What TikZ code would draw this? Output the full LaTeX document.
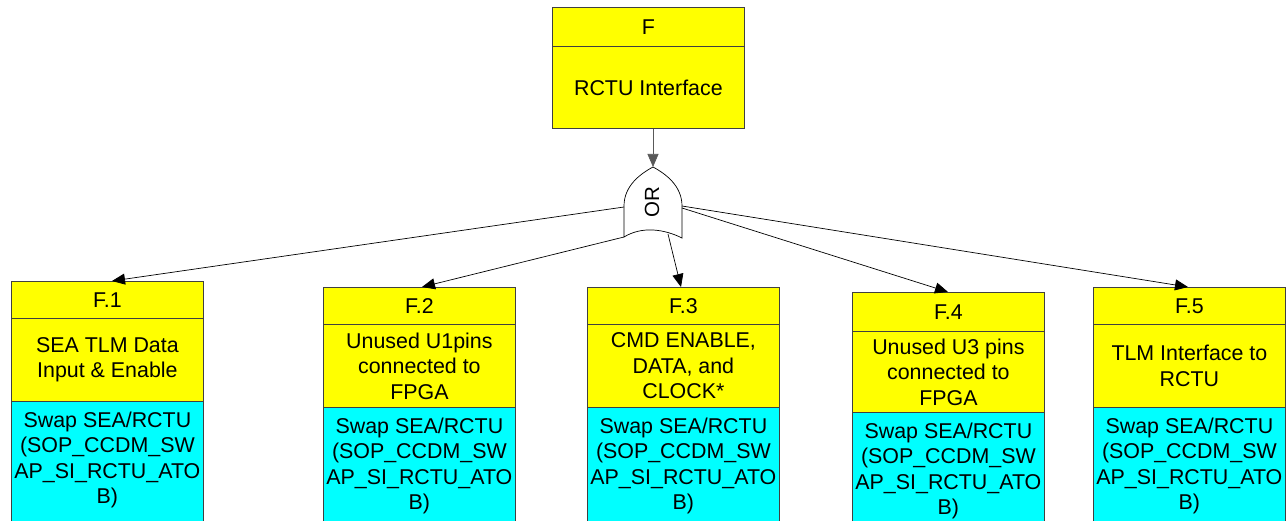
\documentclass[tikz,border=0pt]{standalone}
\usepackage{fontspec}
\setmainfont{Liberation Sans}
\usetikzlibrary{arrows.meta}
\definecolor{evYellow}{RGB}{255,255,0}
\definecolor{evCyan}{RGB}{0,255,255}
\newcommand\swapinfo{\parbox[c][140pt][t]{192pt}{\centering\rule{0pt}{26pt}Swap SEA/RCTU\\(SOP\_CCDM\_SW\\AP\_SI\_RCTU\_ATO\\B)}}
\begin{document}
\begin{tikzpicture}[x=1pt,y=-1pt,
  every node/.style={font=\fontsize{21.4}{25.5}\selectfont, inner sep=0pt},
  part/.style={draw=black!75, line width=0.8pt, minimum width=192pt, anchor=north west, align=center},
  hdr/.style={part, fill=evYellow, minimum height=#1},
  desc/.style={part, fill=evYellow, minimum height=#1},
  info/.style={part, fill=evCyan, minimum height=140pt},
  gate/.style={draw=black, line width=0.7pt, fill=white},
  link/.style={draw=black, line width=0.7pt, -{Triangle[length=13pt,width=11pt]}},
  feed/.style={link, draw=black!65},
]
\useasboundingbox (0,0) rectangle (1286,521);
\clip (0,0) rectangle (1286,521);
\fill[white] (0,0) rectangle (1286,521);

% top event
\node[hdr=39pt] (fHead) at (552,7) {F};
\node[desc=82pt] (fBody) at (552,46) {RCTU Interface};

% OR gate
\node[minimum width=58pt, minimum height=71pt] (orGate) at (653,202.5) {};
\coordinate (orTop) at (653,167);
\coordinate (orL1) at (624,207);
\coordinate (orL2) at (624,237);
\coordinate (orB) at (668,234);
\coordinate (orR1) at (682,206);
\coordinate (orR2) at (682,208);
\draw[gate] (624,237) -- (624,206) .. controls (624,186) and (640,174) .. (orTop)
  .. controls (666,174) and (682,186) .. (682,206) -- (682,238)
  .. controls (664,229) and (642,226) .. cycle;
\node[rotate=90, font=\fontsize{20.5}{24}\selectfont] (orLabel) at (652,202) {OR};

% F.1
\node[hdr=37pt] (h1) at (11,281) {F.1};
\node[desc=83pt] (d1) at (11,318) {SEA TLM Data\\Input \& Enable};
\node[info] (c1) at (11,401) {\swapinfo};
% F.2
\node[hdr=37pt] (h2) at (323,287) {F.2};
\node[desc=83pt] (d2) at (323,324) {Unused U1pins\\connected to\\FPGA};
\node[info] (c2) at (323,407) {\swapinfo};
% F.3
\node[hdr=37pt] (h3) at (587,287) {F.3};
\node[desc=83pt] (d3) at (587,324) {CMD ENABLE,\\DATA, and\\CLOCK*};
\node[info] (c3) at (587,407) {\swapinfo};
% F.4
\node[hdr=39pt] (h4) at (852,292) {F.4};
\node[desc=81pt] (d4) at (852,331) {Unused U3 pins\\connected to\\FPGA};
\node[info] (c4) at (852,412) {\swapinfo};
% F.5
\node[hdr=37pt] (h5) at (1093,287) {F.5};
\node[desc=83pt] (d5) at (1093,324) {TLM Interface to\\RCTU};
\node[info] (c5) at (1093,407) {\swapinfo};

% arrow landing points on the child headers
\coordinate (t1) at (112,281);
\coordinate (t2) at (422,287);
\coordinate (t3) at (681,287);
\coordinate (t4) at (948,292);
\coordinate (t5) at (1188,287);

% connectors
\draw[feed] (fBody.south -| orTop) -- (orTop);
\draw[link] (orL1) -- (t1);
\draw[link] (orL2) -- (t2);
\draw[link] (orB) -- (t3);
\draw[link] (orR2) -- (t4);
\draw[link] (orR1) -- (t5);
\end{tikzpicture}
\end{document}
